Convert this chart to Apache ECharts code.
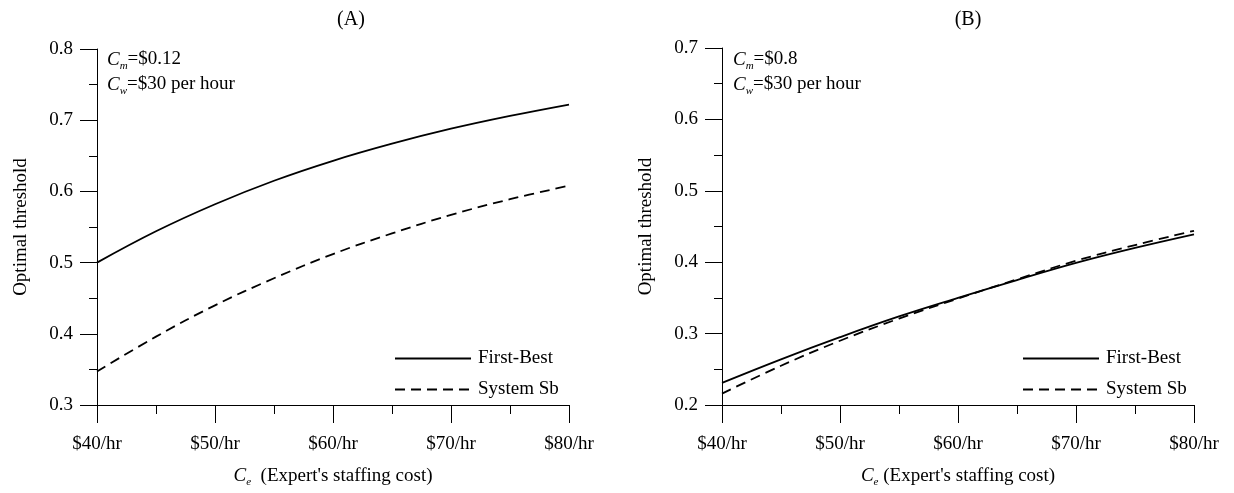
<!DOCTYPE html>
<html><head><meta charset="utf-8">
<script src="https://cdn.jsdelivr.net/npm/echarts@6/dist/echarts.min.js"></script>
<style>html,body{margin:0;padding:0;background:#fff}#c{width:1234px;height:493px}</style>
</head><body><div id="c"></div>
<script>
// ---- data ----
const costs = [40, 45, 50, 55, 60, 65, 70, 75, 80];
const xTickLabels = ['$40/hr', '$50/hr', '$60/hr', '$70/hr', '$80/hr'];
const panelTitles = ['(A)', '(B)'];
const seriesNames = ['First-Best', 'System Sb'];
const firstBestA = [0.500, 0.544, 0.582, 0.615, 0.643, 0.667, 0.688, 0.706, 0.722];
const systemSbA  = [0.347, 0.396, 0.440, 0.478, 0.512, 0.541, 0.567, 0.589, 0.608];
const firstBestB = [0.231, 0.264, 0.295, 0.324, 0.350, 0.375, 0.399, 0.420, 0.439];
const systemSbB  = [0.216, 0.255, 0.290, 0.321, 0.349, 0.376, 0.402, 0.424, 0.444];
const cmValues = ['$0.12', '$0.8'];
const cwText = '$30 per hour';

const FF = 'Liberation Serif';
const FS = 19;
const chart = echarts.init(document.getElementById('c'), null, {renderer: 'canvas'});
const pairs = ys => costs.map((c, i) => [c, ys[i]]);
const richSub = {
  i: {fontFamily: FF, fontSize: FS, fontStyle: 'italic', color: '#000', lineHeight: 24},
  s: {fontFamily: FF, fontSize: 11, fontStyle: 'italic', color: '#000', lineHeight: 14, verticalAlign: 'bottom'},
  n: {fontFamily: FF, fontSize: FS, color: '#000', lineHeight: 24}
};
const grids = [
  {left: 97, top: 49, width: 472, height: 357},
  {left: 722, top: 48, width: 472, height: 357}
];
const yRanges = [[0.3, 0.8], [0.2, 0.7]];
function xAxis(gi, gap) {
  return {
    type: 'value', gridIndex: gi, min: 40, max: 80, interval: 10,
    name: '{i|C}{s|e}{n|' + gap + '(Expert\'s staffing cost)}',
    nameLocation: 'middle', nameGap: 59,
    nameTextStyle: {fontFamily: FF, fontSize: FS, color: '#000', rich: richSub},
    axisLine: {lineStyle: {color: '#000', width: 1}},
    axisTick: {length: 18, lineStyle: {color: '#000', width: 1}},
    minorTick: {show: true, splitNumber: 2, length: 9, lineStyle: {color: '#000', width: 1}},
    splitLine: {show: false}, minorSplitLine: {show: false},
    axisLabel: {margin: 30, fontFamily: FF, fontSize: FS, color: '#000',
      formatter: v => xTickLabels[(v - 40) / 10]}
  };
}
function yAxis(gi) {
  return {
    type: 'value', gridIndex: gi, min: yRanges[gi][0], max: yRanges[gi][1], interval: 0.1,
    name: 'Optimal threshold', nameLocation: 'middle', nameGap: 66,
    nameTextStyle: {fontFamily: FF, fontSize: FS, color: '#000'},
    axisLine: {show: true, lineStyle: {color: '#000', width: 1}},
    axisTick: {show: true, length: 17, lineStyle: {color: '#000', width: 1}},
    minorTick: {show: true, splitNumber: 2, length: 8, lineStyle: {color: '#000', width: 1}},
    splitLine: {show: false}, minorSplitLine: {show: false},
    axisLabel: {margin: 24, fontFamily: FF, fontSize: FS, color: '#000', formatter: v => v.toFixed(1)}
  };
}
function line(name, gi, ys, dashed) {
  return {
    type: 'line', name: name, xAxisIndex: gi, yAxisIndex: gi, data: pairs(ys),
    smooth: 0.4, symbol: 'none', silent: true, animation: false,
    lineStyle: {color: '#000', width: 1.8, type: dashed ? [10, 6] : 'solid'},
    itemStyle: {color: '#000'}
  };
}
function legend(left) {
  return {
    orient: 'vertical', left: left, top: 349, padding: 0,
    itemWidth: 76, itemHeight: 19, itemGap: 12, itemTextGap: 5,
    data: seriesNames, selectedMode: false,
    itemStyle: {opacity: 0, color: 'rgba(0,0,0,0)', borderWidth: 0},
    textStyle: {fontFamily: FF, fontSize: FS, color: '#000', padding: [0, 0, 0, 2]}
  };
}
function note(x, sub, val, y) {
  return {type: 'text', left: x, top: y, silent: true,
    style: {text: '{i|C}{s|' + sub + '}{n|=' + val + '}', rich: richSub, fill: '#000'}};
}
chart.setOption({
  animation: false,
  backgroundColor: '#fff',
  title: [
    {text: panelTitles[0], left: 346, top: 5, textAlign: 'center',
      textStyle: {fontFamily: FF, fontSize: 20, fontWeight: 'normal', color: '#000'}},
    {text: panelTitles[1], left: 963, top: 5, textAlign: 'center',
      textStyle: {fontFamily: FF, fontSize: 20, fontWeight: 'normal', color: '#000'}}
  ],
  grid: grids,
  xAxis: [xAxis(0, '  '), xAxis(1, ' ')],
  yAxis: [yAxis(0), yAxis(1)],
  legend: [legend(394), legend(1022)],
  series: [
    line(seriesNames[0], 0, firstBestA, false),
    line(seriesNames[1], 0, systemSbA, true),
    line(seriesNames[0], 1, firstBestB, false),
    line(seriesNames[1], 1, systemSbB, true)
  ],
  graphic: [
    note(107, 'm', cmValues[0], 50),
    note(107, 'w', cwText, 75),
    note(733, 'm', cmValues[1], 50),
    note(733, 'w', cwText, 75)
  ]
});
</script></body></html>
